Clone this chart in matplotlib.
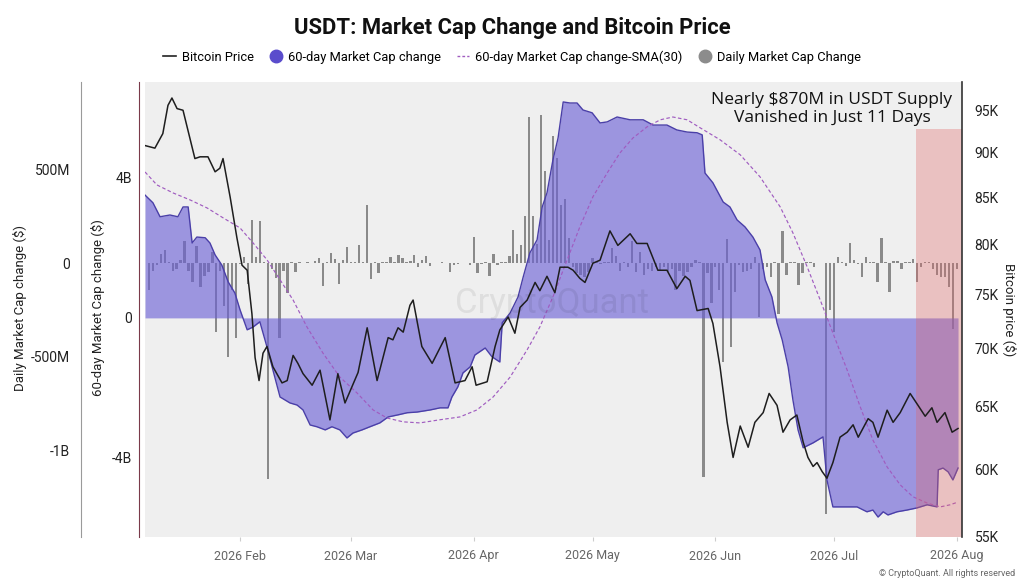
import matplotlib
matplotlib.use("Agg")
import matplotlib.pyplot as plt
import matplotlib.dates as mdates
from matplotlib.lines import Line2D
from matplotlib.ticker import FixedLocator, FuncFormatter, NullLocator
import numpy as np
import pandas as pd

plt.rcParams["font.family"] = ["Roboto", "DejaVu Sans"]

# ---- data (days counted from the first date of the window) ----
start = pd.Timestamp("2026-01-08")
x_end_day = 206.3
highlight_start_day = 194.7

# Bitcoin price, thousand USD
btc_points = [
    (0, 90.8), (2.5, 90.5), (4.5, 92.2), (5.8, 95.6), (6.8, 96.5), (8.1, 95.2),
    (9.6, 95.0), (12.6, 89.3), (13.9, 89.5), (15.9, 89.5), (17.7, 87.8), (18.9, 88.2),
    (19.7, 89.3), (21.5, 85.0), (23.2, 80.7), (24.5, 77.9), (25.8, 77.4), (27.0, 73.2),
    (27.8, 69.2), (28.8, 67.2), (29.8, 69.6), (30.8, 70.2), (32.3, 68.4), (34.6, 67.0),
    (35.9, 67.2), (37.4, 69.4), (38.6, 68.7), (39.9, 67.8), (42.2, 66.8), (44.2, 68.1),
    (46.7, 63.9), (48.7, 67.8), (50.5, 65.3), (53.8, 67.9), (56.1, 71.9), (58.6, 67.2),
    (61.4, 71.0), (62.6, 70.8), (63.9, 71.9), (65.2, 71.5), (66.9, 74.0), (67.7, 74.5),
    (69.9, 70.2), (72.5, 68.7), (75.8, 71.0), (78.3, 67.0), (80.8, 67.2), (82.6, 68.4),
    (83.6, 66.8), (86.4, 67.1), (88.4, 70.2), (89.6, 71.7), (91.7, 72.9), (93.4, 71.4),
    (94.7, 73.8), (96.5, 74.5), (98.5, 76.2), (99.7, 75.4), (101.5, 76.8), (103.5, 75.2),
    (104.8, 77.7), (106.8, 77.7), (108.1, 77.4), (109.8, 76.6), (111.1, 76.2), (113.1, 78.1),
    (114.9, 78.4), (117.4, 81.4), (119.4, 79.9), (122.5, 81.1), (124.2, 80.1), (126.8, 80.1),
    (129.5, 77.4), (131.8, 77.4), (134.3, 75.6), (136.4, 76.8), (137.6, 76.4), (139.4, 73.5),
    (142.2, 73.7), (143.4, 72.3), (145.2, 68.4), (147.0, 63.7), (148.5, 60.9), (150.3, 63.4),
    (152.3, 61.7), (154.0, 63.7), (156.1, 64.5), (157.6, 66.1), (159.6, 65.1), (161.1, 62.9),
    (162.9, 63.9), (164.6, 64.3), (166.2, 62.1), (167.4, 60.9), (168.7, 60.2), (169.7, 60.5),
    (171.0, 59.8), (172.2, 59.3), (173.7, 60.5), (175.5, 62.5), (177.3, 62.9), (178.8, 63.5),
    (180.1, 62.5), (182.6, 64.0), (183.8, 63.7), (185.1, 62.5), (187.4, 64.7), (188.9, 63.7),
    (190.7, 64.5), (193.2, 66.1), (195.2, 65.1), (197.0, 64.2), (198.7, 64.9), (200.0, 63.7),
    (202.0, 64.5), (203.8, 62.9), (205.3, 63.2),
]

# 60-day market cap change, billion USD
change60_points = [
    (0, 3.51), (2.0, 3.29), (3.8, 2.89), (6.3, 2.94), (8.3, 2.89), (9.6, 3.17),
    (10.9, 3.17), (11.9, 2.14), (13.1, 2.31), (15.2, 2.29), (16.4, 2.14), (17.7, 1.80),
    (19.4, 1.51), (21.0, 1.03), (22.7, 0.71), (24.0, 0.23), (25.8, -0.34), (27.3, -0.26),
    (29.0, -0.11), (30.8, -0.83), (32.3, -1.49), (34.1, -2.26), (36.6, -2.43), (38.4, -2.49),
    (39.9, -2.63), (41.7, -3.06), (43.4, -3.11), (45.5, -3.20), (47.2, -3.11), (49.2, -3.20),
    (51.0, -3.43), (52.5, -3.29), (54.8, -3.20), (56.8, -3.11), (59.3, -3.00), (61.4, -2.83),
    (63.9, -2.77), (66.2, -2.71), (68.7, -2.69), (72.0, -2.63), (74.5, -2.57), (76.5, -2.57),
    (77.5, -2.26), (79.0, -1.97), (80.3, -1.57), (82.1, -1.40), (83.3, -1.06), (85.9, -0.86),
    (87.6, -1.11), (89.6, -1.26), (90.2, -0.14), (92.2, 0.14), (94.2, 0.60), (95.5, 1.17),
    (97.2, 1.86), (99.0, 2.23), (100.3, 3.17), (101.5, 3.57), (103.0, 4.51), (104.3, 5.14),
    (105.6, 6.17), (107.3, 6.14), (109.1, 6.14), (110.6, 5.94), (112.9, 5.86), (114.9, 5.57),
    (116.7, 5.60), (119.2, 5.74), (122.5, 5.66), (125.8, 5.66), (128.3, 5.51), (131.8, 5.51),
    (134.3, 5.37), (136.9, 5.31), (139.4, 5.29), (140.7, 5.23), (141.4, 4.14), (143.4, 3.86),
    (146.0, 3.31), (147.7, 3.17), (149.5, 2.80), (151.5, 2.60), (153.5, 2.31), (155.3, 1.94),
    (156.6, 1.09), (158.3, 0.60), (159.6, -0.14), (160.9, -0.63), (162.4, -1.40), (163.6, -2.34),
    (164.9, -3.20), (166.2, -3.71), (168.7, -3.57), (171.2, -3.40), (172.2, -4.63), (173.7, -5.40),
    (176.3, -5.40), (179.8, -5.40), (182.3, -5.54), (183.8, -5.49), (185.1, -5.69), (186.4, -5.54),
    (187.6, -5.63), (189.9, -5.54), (192.4, -5.49), (194.9, -5.43), (197.5, -5.34), (200.0, -5.40),
    (200.3, -4.34), (201.5, -4.29), (202.8, -4.40), (204.0, -4.63), (205.3, -4.29),
]

# 30-day SMA of the 60-day change, billion USD
sma30_points = [
    (0, 4.17), (3.0, 3.80), (7.1, 3.57), (11.4, 3.37), (15.7, 3.14), (19.7, 2.86),
    (24.0, 2.57), (27.3, 2.14), (30.8, 1.66), (34.1, 1.09), (37.4, 0.51), (40.9, -0.26),
    (44.9, -1.00), (49.2, -1.69), (53.5, -2.14), (57.6, -2.63), (61.1, -2.86), (65.2, -2.97),
    (69.4, -3.00), (74.5, -2.91), (79.5, -2.83), (83.8, -2.63), (87.9, -2.26), (92.2, -1.69),
    (96.5, -0.91), (99.7, -0.26), (103.0, 0.60), (106.6, 1.66), (109.8, 2.60), (113.1, 3.46),
    (116.7, 4.14), (119.9, 4.71), (123.2, 5.14), (126.8, 5.46), (130.1, 5.66), (133.3, 5.74),
    (136.9, 5.66), (140.2, 5.43), (145.2, 5.09), (150.3, 4.66), (155.3, 4.03), (160.4, 3.17),
    (163.6, 2.43), (167.2, 1.46), (170.5, 0.51), (173.7, -0.43), (177.3, -1.49), (180.6, -2.54),
    (183.8, -3.49), (187.4, -4.26), (190.7, -4.77), (193.9, -5.11), (197.5, -5.29), (200.8, -5.40),
    (203.3, -5.34), (205.3, -5.26),
]

# daily market cap change, million USD, days 1..205
daily_change = [
    -144, -40, -10, 50, 70, 3, -40, -30, 16, 120,
    -40, -100, 90, -126, -70, -46, 60, -370, -40, -230,
    -500, -144, -400, -5, 30, -110, 230, 34, 226, 5,
    -1150, -30, -80, -400, -40, -160, 7, -50, 3, 2,
    3, 2, 10, 25, -120, 3, 55, 20, -110, 16,
    84, 3, 3, 96, 3, 310, -87, 3, -55, 4,
    7, 34, 7, 43, 25, 3, 10, 43, -23, 16,
    40, -16, 2, 2, 5, 2, -46, -10, -5, 2,
    2, -12, 140, -55, -5, 7, -70, 48, -10, 3,
    3, 40, 176, 50, 96, 250, 780, 250, 100, 790,
    490, 125, 680, 560, 310, 340, 135, -20, -55, -64,
    -73, -46, 25, 5, -5, 4, 3, 80, 40, -40,
    5, -20, 120, -46, 60, -64, -30, -40, -20, -40,
    -20, -46, -30, -144, -40, -70, -50, -20, 15, 7,
    -1140, -55, -215, -20, -144, -530, 130, -450, -155, -10,
    -46, -40, -30, 34, -290, -30, -20, -73, 3, -270,
    170, -64, 7, 3, -115, -55, 7, 5, -20, 2,
    2, -1340, -250, -370, 30, 3, -15, 105, 15, -5,
    -73, 30, 5, 3, -100, 135, 5, -155, 10, 12,
    -30, 3, 3, 20, -100, -20, 3, 3, -30, -64,
    -73, -73, -126, -350, -30,
]


def to_dates(days):
    return start + pd.to_timedelta(np.asarray(days, dtype=float), unit="D")


btc_x = to_dates([d for d, _ in btc_points])
btc_y = [v for _, v in btc_points]
c60_x = to_dates([d for d, _ in change60_points])
c60_y = np.array([v for _, v in change60_points])
sma_x = to_dates([d for d, _ in sma30_points])
sma_y = [v for _, v in sma30_points]
bar_x = to_dates(np.arange(1, len(daily_change) + 1))


def fmt_daily(v, pos):
    if v == 0:
        return "0"
    if abs(v) >= 1000:
        return f"{v / 1000:.0f}B"
    return f"{v:.0f}M"


def fmt_60(v, pos):
    return "0" if v == 0 else f"{v:.0f}B"


# ---- figure ----
fig = plt.figure(figsize=(10.24, 5.88), dpi=100)
rect = [145 / 1024, 1 - 537 / 588, 817 / 1024, 455 / 588]

# daily bars (base axis, outer left scale)
axd = fig.add_axes(rect)
axd.set_facecolor("#efefef")
axd.bar(bar_x, daily_change, width=0.6, color="#8a8a8a", linewidth=0)
axd.set_ylim(-1462, 966)
axd.yaxis.set_major_locator(FixedLocator([-1000, -500, 0, 500]))
axd.yaxis.set_major_formatter(FuncFormatter(fmt_daily))
axd.tick_params(axis="y", length=0, pad=8, labelsize=10, labelcolor="#222")
for s in ["top", "right", "bottom"]:
    axd.spines[s].set_visible(False)
axd.spines["left"].set_position(("outward", 46))
axd.spines["left"].set_color("#9a9a9a")

axd.set_xlim(start, start + pd.Timedelta(days=x_end_day))
axd.xaxis.set_major_locator(mdates.MonthLocator())
axd.xaxis.set_major_formatter(mdates.DateFormatter("%Y %b"))
axd.tick_params(axis="x", length=3, color="#cccccc", labelsize=9, labelcolor="#666666", pad=6)

# 60-day change (inner left scale)
ax60 = axd.twinx()
ax60.yaxis.tick_left()
ax60.fill_between(c60_x, c60_y, 0, color="#6a5fd6", alpha=0.62, linewidth=0)
ax60.plot(c60_x, c60_y, color="#4a3fa8", lw=1.0)
ax60.plot(sma_x, sma_y, color="#a05cc0", lw=0.85, ls=(0, (3, 2)))
ax60.set_ylim(-6.26, 6.74)
ax60.yaxis.set_major_locator(FixedLocator([-4, 0, 4]))
ax60.yaxis.set_major_formatter(FuncFormatter(fmt_60))
ax60.tick_params(axis="y", length=0, pad=5, labelsize=10, labelcolor="#222")
for s in ["top", "right", "bottom"]:
    ax60.spines[s].set_visible(False)
ax60.spines["left"].set_visible(True)
ax60.spines["left"].set_position(("outward", 4.3))
ax60.spines["left"].set_color("#7a3a4a")

# Bitcoin price (right, log scale)
axb = axd.twinx()
axb.set_yscale("log")
axb.axvspan(start + pd.Timedelta(days=highlight_start_day), start + pd.Timedelta(days=x_end_day),
            ymin=0, ymax=0.897, color="#e06666", alpha=0.33, lw=0)
axb.plot(btc_x, btc_y, color="#1e1e1e", lw=1.1)
axb.set_ylim(55, 98.5)
axb.yaxis.set_major_locator(FixedLocator([55, 60, 65, 70, 75, 80, 85, 90, 95]))
axb.yaxis.set_minor_locator(NullLocator())
axb.yaxis.set_major_formatter(FuncFormatter(lambda v, p: f"{v:.0f}K"))
axb.tick_params(axis="y", which="both", length=0, pad=9, labelsize=10, labelcolor="#222")
for s in ["top", "left", "bottom"]:
    axb.spines[s].set_visible(False)
axb.spines["right"].set_color("#333333")
axb.spines["right"].set_linewidth(1.2)

# axis labels
fig.text(20 / 1024, 1 - 308 / 588, "Daily Market Cap change ($)", rotation=90,
         ha="center", va="center", fontsize=9.5, color="#222")
fig.text(98 / 1024, 1 - 308 / 588, "60-day Market Cap change ($)", rotation=90,
         ha="center", va="center", fontsize=9.5, color="#222")
fig.text(1009 / 1024, 1 - 310 / 588, "Bitcoin price ($)", rotation=270,
         ha="center", va="center", fontsize=9.5, color="#222")

# title, legend, notes
fig.text(0.5, 1 - 28 / 588, "USDT: Market Cap Change and Bitcoin Price",
         ha="center", va="center", fontsize=15.8, fontweight="bold", color="#111")

handles = [
    Line2D([0], [0], color="#222222", lw=1.2),
    Line2D([0], [0], marker="o", ls="none", color="#5a4ccc", markersize=9),
    Line2D([0], [0], color="#a05cc0", lw=1.0, ls=(0, (2, 1.5))),
    Line2D([0], [0], marker="o", ls="none", color="#8c8c8c", markersize=9),
]
labels = ["Bitcoin Price", "60-day Market Cap change",
          "60-day Market Cap change-SMA(30)", "Daily Market Cap Change"]
fig.legend(handles, labels, loc="center", bbox_to_anchor=(0.5, 1 - 57 / 588), ncol=4,
           frameon=False, fontsize=9.3, handlelength=1.0, handletextpad=0.45,
           columnspacing=1.2)

fig.text(832 / 1024, 1 - 109 / 588, "Nearly $870M in USDT Supply\nVanished in Just 11 Days",
         ha="center", va="center", fontsize=12.5, linespacing=1.15, color="#111",
         family=["Open Sans", "DejaVu Sans"])

fig.text(552 / 1024, 1 - 303 / 588, "CryptoQuant", ha="center", va="center",
         fontsize=25, color="#000000", alpha=0.07)

fig.text(1015 / 1024, 1 - 573 / 588, "© CryptoQuant. All rights reserved",
         ha="right", va="center", fontsize=6.5, color="#666666")

fig.savefig("out.png", dpi=100)
